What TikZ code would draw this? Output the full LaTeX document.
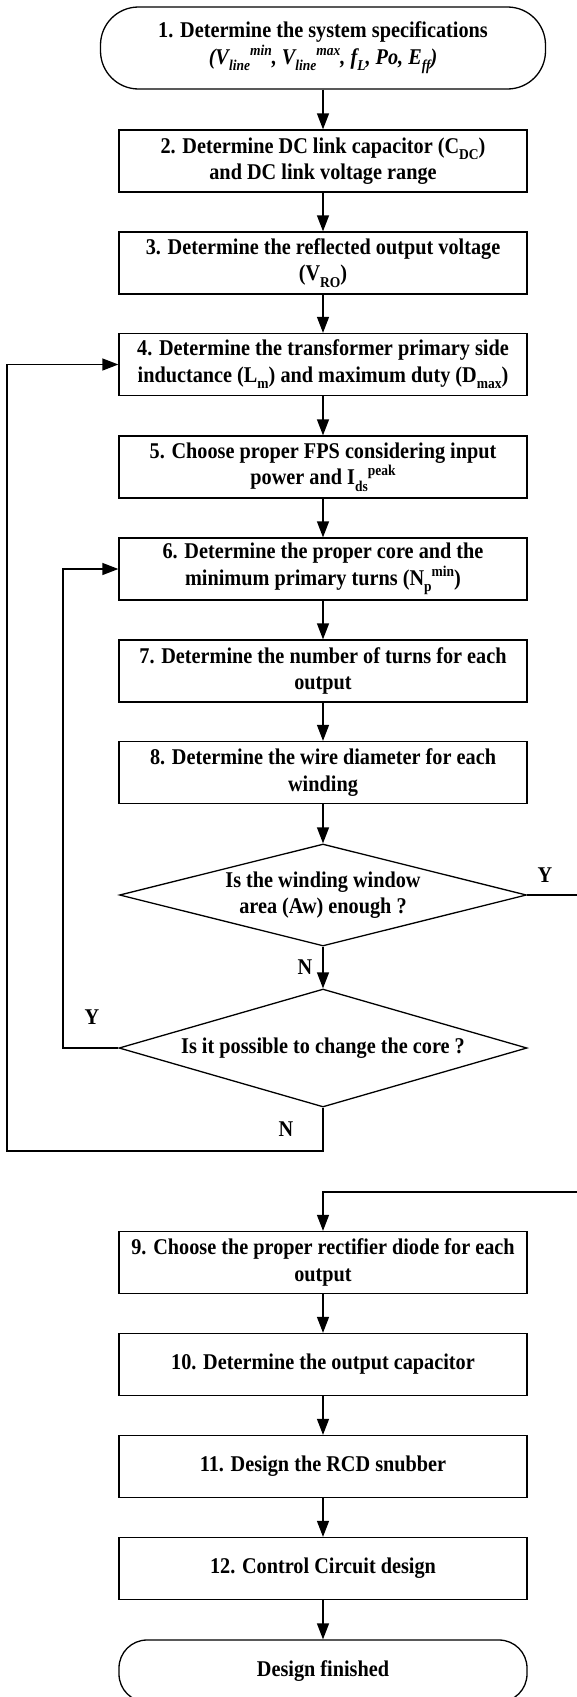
\documentclass[tikz,border=0pt]{standalone}
\usepackage{fontspec}
\setmainfont[FakeStretch=0.9]{Liberation Serif}
\usetikzlibrary{arrows.meta,shapes.geometric,calc}

\newcommand\sbs[1]{\raisebox{-0.28em}{\fontsize{15}{15}\selectfont #1}}
\newcommand\sps[1]{\raisebox{0.4em}{\fontsize{15}{15}\selectfont #1}}

\begin{document}
\begin{tikzpicture}[x=1pt,y=-1pt,
 font=\fontsize{22.5}{26.5}\selectfont\bfseries,
 box/.style={draw, line width=1.3pt, minimum width=408pt, minimum height=62pt, align=center, inner sep=0pt},
 term/.style={box, rounded corners=28pt},
 dec/.style={draw, diamond, line width=1.3pt, inner sep=0pt},
 arr/.style={line width=1.3pt, -{Triangle[length=16pt,width=12pt]}},
 lbl/.style={inner sep=0pt}]
\useasboundingbox (0,0) rectangle (577,1697);

\node[term, minimum width=445pt, minimum height=82pt, rounded corners=38pt] (t1) at (323,48)
  {1. Determine the system specifications\\
   \textit{(V\sbs{line}\sps{min}, V\sbs{line}\sps{max}, f\sbs{L}, Po, E\sbs{ff})}};
\node[box] (b2) at (323,161) {2. Determine DC link capacitor (C\sbs{DC})\\and DC link voltage range};
\node[box] (b3) at (323,263) {3. Determine the reflected output voltage\\(V\sbs{RO})};
\node[box] (b4) at (323,364.5) {4. Determine the transformer primary side\\inductance (L\sbs{m}) and maximum duty (D\sbs{max})};
\node[box] (b5) at (323,467) {5. Choose proper FPS considering input\\power and I\sbs{ds}\sps{peak}};
\node[box] (b6) at (323,569) {6. Determine the proper core and the\\minimum primary turns (N\sbs{p}\sps{min})};
\node[box] (b7) at (323,671) {7. Determine the number of turns for each\\output};
\node[box] (b8) at (323,772.5) {8. Determine the wire diameter for each\\winding};

\node[dec, minimum width=407pt, minimum height=102pt] (d1) at (323,895) {};
\node[align=center, inner sep=0pt] (d1t) at (323,895) {Is the winding window\\area (Aw) enough ?};
\node[dec, minimum width=408pt, minimum height=118pt] (d2) at (323,1048) {};
\node[inner sep=0pt] (d2t) at (323,1048) {Is it possible to change the core ?};

\node[box] (b9) at (323,1262.5) {9. Choose the proper rectifier diode for each\\output};
\node[box] (b10) at (323,1364.5) {10. Determine the output capacitor};
\node[box] (b11) at (323,1466.5) {11. Design the RCD snubber};
\node[box] (b12) at (323,1568.5) {12. Control Circuit design};
\node[term] (t2) at (323,1671) {Design finished};

\node[lbl] (ly1) at (545,875) {Y};
\node[lbl] (ln1) at (305,967) {N};
\node[lbl] (ly2) at (92,1017) {Y};
\node[lbl] (ln2) at (286,1129) {N};

\draw[arr] (t1.south) -- (b2.north);
\draw[arr] (b2.south) -- (b3.north);
\draw[arr] (b3.south) -- (b4.north);
\draw[arr] (b4.south) -- (b5.north);
\draw[arr] (b5.south) -- (b6.north);
\draw[arr] (b6.south) -- (b7.north);
\draw[arr] (b7.south) -- (b8.north);
\draw[arr] (b8.south) -- (d1.north);
\draw[arr] (d1.south) -- (d2.north);
\draw[arr] (b9.south) -- (b10.north);
\draw[arr] (b10.south) -- (b11.north);
\draw[arr] (b11.south) -- (b12.north);
\draw[arr] (b12.south) -- (t2.north);

\coordinate (re1) at (600,895);
\coordinate (re2) at (600,1192);
\draw[arr] (d1.east) -- (re1) -- (re2) -- (b9.north |- re2) -- (b9.north);

\coordinate (il) at (63,1048);
\draw[arr] (d2.west) -- (il) |- (b6.west);

\coordinate (ol) at (7,1151);
\draw[arr] (d2.south) |- (ol) |- (b4.west);
\end{tikzpicture}
\end{document}
